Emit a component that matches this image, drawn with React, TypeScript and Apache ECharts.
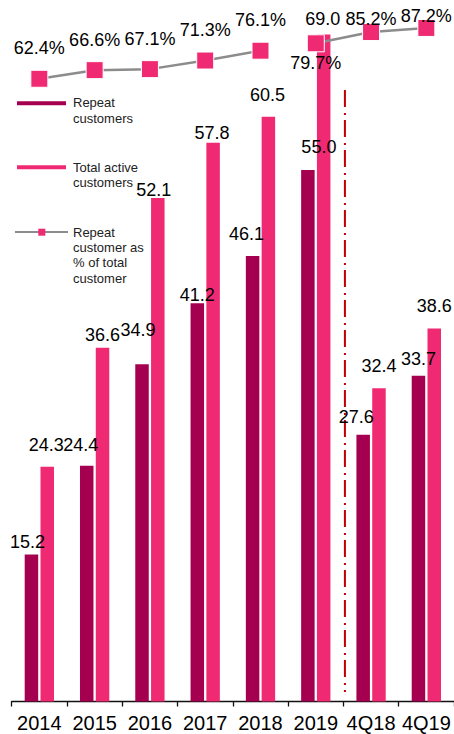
import React, { useEffect, useRef } from "react";
import * as echarts from "echarts";

const categories = ["2014", "2015", "2016", "2017", "2018", "2019", "4Q18", "4Q19"];
const repeatCustomers = [15.2, 24.4, 34.9, 41.2, 46.1, 55.0, 27.6, 33.7];
const totalActiveCustomers = [24.3, 36.6, 52.1, 57.8, 60.5, 69.0, 32.4, 38.6];
const repeatShare = [62.4, 66.6, 67.1, 71.3, 76.1, 79.7, 85.2, 87.2];
// the share line is broken between the yearly and the quarterly part
const yearlyCount = 5;

// label nudges (styling only)
const repeatLabelOffsets = [[-4, 9], [-6, 1], [-4, -12], [0, 14], [-6, 0], [11, -1], [-7, 4], [0, 5]];
const totalLabelOffsets = [[-1, 0], [0, 9], [-4, 14], [-1, 12], [-1, 0], [-1, 6], [0, 0], [0, 0]];
const shareLabelOffsets = [[0, 0], [0, 0], [0, 0], [0, 0], [0, 0], [0, 0], [0, 17], [0, 19]];

const DARK = "#A50050";
const PINK = "#F02A72";
const GRAY = "#8C8C8C";
const FONT = "'Liberation Sans', Arial, sans-serif";

export default function App() {
  const ref = useRef<HTMLDivElement>(null);
  useEffect(() => {
    if (!ref.current) return;
    const chart = echarts.init(ref.current, undefined, { renderer: "svg" });

    const shareItem = (v: number, i: number) => {
      const item: any = { value: v, label: { offset: shareLabelOffsets[i] } };
      if (i === yearlyCount) {
        item.label = { position: "bottom", distance: 1.5, offset: shareLabelOffsets[i] };
      }
      return item;
    };
    const lineYearly = repeatShare.map((v, i) => (i < yearlyCount ? shareItem(v, i) : "-"));
    const lineQuarterly = repeatShare.map((v, i) => (i >= yearlyCount ? shareItem(v, i) : "-"));

    const lineSeries = (data: any[]) => ({
      type: "line",
      yAxisIndex: 1,
      data,
      z: 5,
      symbol: "rect",
      symbolSize: 17,
      lineStyle: { color: GRAY, width: 2.5 },
      itemStyle: { color: PINK, borderColor: "#FFFFFF", borderWidth: 1 },
      label: {
        show: true,
        position: "top",
        distance: 12.5,
        fontSize: 18,
        fontFamily: FONT,
        color: "#000",
        formatter: (p: any) => Number(p.value).toFixed(1) + "%",
      },
    });

    const legendText = (text: string, y: number) => ({
      type: "text",
      x: 73,
      y,
      z: 10,
      style: {
        text,
        fontSize: 13,
        lineHeight: 15.4,
        fontFamily: FONT,
        fill: "#222",
        verticalAlign: "top",
      },
    });

    chart.setOption({
      animation: false,
      grid: { left: 11.7, right: 0, top: 0, bottom: 32.5, containLabel: false },
      xAxis: {
        type: "category",
        data: categories,
        axisLine: { lineStyle: { color: "#111", width: 1.3 } },
        axisTick: { show: true, length: 5, lineStyle: { color: "#111", width: 1.3 } },
        axisLabel: { fontSize: 20, fontFamily: FONT, color: "#000", margin: 11, interval: 0 },
      },
      yAxis: [
        { type: "value", min: 0, max: 72.58, show: false, splitLine: { show: false } },
        { type: "value", min: -241.4, max: 100.83, show: false, splitLine: { show: false } },
      ],
      series: [
        {
          name: "Repeat customers",
          type: "bar",
          data: repeatCustomers.map((v, i) => ({ value: v, label: { offset: repeatLabelOffsets[i] } })),
          barWidth: 13.5,
          barGap: "17%",
          itemStyle: { color: DARK },
          label: {
            show: true,
            position: "top",
            distance: 13,
            fontSize: 18,
            fontFamily: FONT,
            color: "#000",
            formatter: (p: any) => Number(p.value).toFixed(1),
          },
        },
        {
          name: "Total active customers",
          type: "bar",
          data: totalActiveCustomers.map((v, i) => ({ value: v, label: { offset: totalLabelOffsets[i] } })),
          barWidth: 13.5,
          itemStyle: { color: PINK },
          label: {
            show: true,
            position: "top",
            distance: 13,
            fontSize: 18,
            fontFamily: FONT,
            color: "#000",
            formatter: (p: any) => Number(p.value).toFixed(1),
          },
        },
        { name: "Repeat customer as % of total customer", ...lineSeries(lineYearly) },
        { name: "Repeat customer as % of total customer (quarterly)", ...lineSeries(lineQuarterly) },
      ],
    });

    // divider between yearly and quarterly data, at the category boundary
    const c5 = chart.convertToPixel({ xAxisIndex: 0 }, categories[5]) as number;
    const c6 = chart.convertToPixel({ xAxisIndex: 0 }, categories[6]) as number;
    const divX = (c5 + c6) / 2 + 1.5;

    chart.setOption({
      graphic: [
        {
          type: "line",
          z: 1,
          shape: { x1: divX, y1: 90, x2: divX, y2: 692 },
          style: { stroke: "#C00000", lineWidth: 2, lineDash: [17, 6, 2, 5] },
        },
        { type: "rect", z: 10, shape: { x: 17, y: 101.3, width: 49, height: 4 }, style: { fill: DARK } },
        legendText("Repeat\ncustomers", 95),
        { type: "rect", z: 10, shape: { x: 17, y: 165.3, width: 49, height: 4 }, style: { fill: PINK } },
        legendText("Total active\ncustomers", 159.5),
        { type: "line", z: 10, shape: { x1: 15, y1: 232, x2: 68, y2: 232 }, style: { stroke: GRAY, lineWidth: 2 } },
        { type: "rect", z: 11, shape: { x: 38.3, y: 228.7, width: 7, height: 7 }, style: { fill: PINK } },
        legendText("Repeat\ncustomer as\n% of total\ncustomer", 224.4),
      ],
    });

    return () => chart.dispose();
  }, []);

  return (
    <div
      ref={ref}
      style={{ position: "absolute", left: 0, top: 0, width: 454, height: 734, background: "#fff" }}
    />
  );
}
